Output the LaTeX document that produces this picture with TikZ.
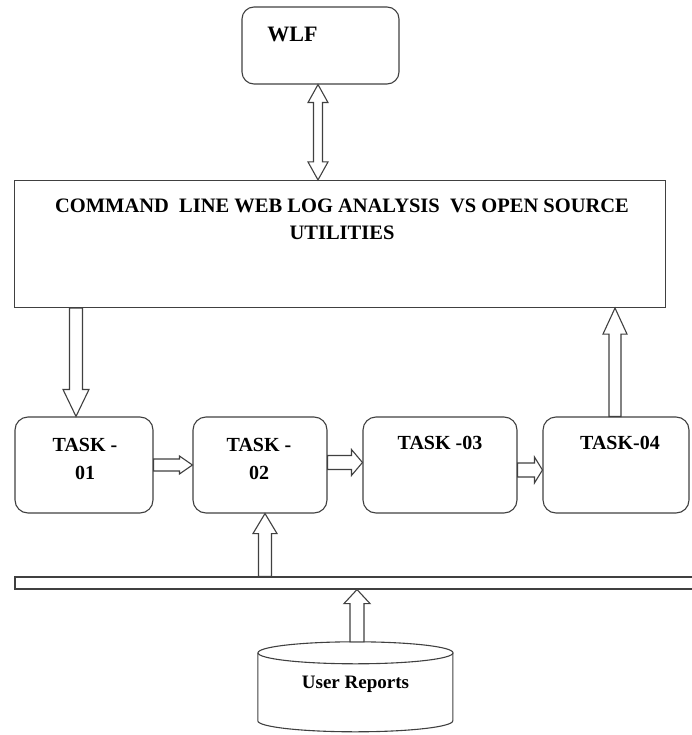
\documentclass[tikz,border=0pt]{standalone}
\usepackage{fontspec}
\setmainfont{Liberation Serif}
\usetikzlibrary{calc}
\newcommand\fatarrow[5]{%
  \draw[fat] ($(#2)!#5!(#1)$) coordinate (fc)
    ($(#1)!#3!90:(#2)$) -- ($(fc)!#3!90:(#2)$) -- ($(fc)!#4!90:(#2)$) -- (#2)
    -- ($(fc)!#4!-90:(#2)$) -- ($(fc)!#3!-90:(#2)$) -- ($(#1)!#3!-90:(#2)$) -- cycle;}
\newcommand\fatdarrow[5]{%
  \draw[fat] ($(#1)!#5!(#2)$) coordinate (fca) ($(#2)!#5!(#1)$) coordinate (fcb)
    (#1) -- ($(fca)!#4!90:(#2)$) -- ($(fca)!#3!90:(#2)$) -- ($(fcb)!#3!90:(#2)$)
    -- ($(fcb)!#4!90:(#2)$) -- (#2) -- ($(fcb)!#4!-90:(#2)$) -- ($(fcb)!#3!-90:(#2)$)
    -- ($(fca)!#3!-90:(#2)$) -- ($(fca)!#4!-90:(#2)$) -- cycle;}
\begin{document}
\begin{tikzpicture}[x=1pt,y=-1pt,
  line/.style={draw=black!75, line width=1.1pt},
  fat/.style={line, fill=white, line join=miter},
  rbox/.style={line, rounded corners=13pt, inner sep=0pt},
  sbox/.style={line, inner sep=0pt},
  lbl/.style={font=\bfseries\fontsize{20}{28}\selectfont, inner sep=0pt, align=center, text=black}]
\useasboundingbox (0,0) rectangle (691,735);
% boxes
\node[rbox, rounded corners=12pt, minimum width=157pt, minimum height=77pt] (wlf) at (320.5,45.5) {};
\node[sbox, minimum width=651pt, minimum height=127pt] (main) at (340,244) {};
\node[rbox, minimum width=138pt, minimum height=96pt] (t1) at (84,465) {};
\node[rbox, minimum width=134pt, minimum height=96pt] (t2) at (260,465) {};
\node[rbox, minimum width=154pt, minimum height=96pt] (t3) at (440,465) {};
\node[rbox, minimum width=146pt, minimum height=96pt] (t4) at (616,465) {};
\node[sbox, minimum width=678pt, minimum height=12pt] (bar) at (354,583) {};
% cylinder
\node[inner sep=0pt, minimum width=195pt, minimum height=90pt] (cyl) at (355.5,687) {};
\draw[line] (cyl.north west) ++(0,11) coordinate (cyltl) -- ++(0,68)
  arc[start angle=180, end angle=360, x radius=97.5pt, y radius=11pt] -- ++(0,-68);
\draw[line] ($(cyl.north)+(0,11)$) ellipse[x radius=97.5pt, y radius=11pt];
% texts
\node[lbl, font=\bfseries\fontsize{22}{26}\selectfont] (wlft) at (292.5,34) {WLF};
\node[lbl, font=\bfseries\fontsize{20.5}{27}\selectfont, anchor=north] (maint) at (342,198.5)
  {COMMAND\ \ LINE WEB LOG ANALYSIS\ \ VS OPEN SOURCE\\UTILITIES};
\node[lbl, anchor=north] (t1t) at (85,438.5) {TASK -\\01};
\node[lbl, anchor=north] (t2t) at (259,438.5) {TASK -\\02};
\node[lbl] (t3t) at (440,443) {TASK -03};
\node[lbl] (t4t) at (620,443) {TASK-04};
\node[lbl, font=\bfseries\fontsize{19}{22}\selectfont, anchor=base] (urt) at (355.5,688) {User Reports};
% arrow end points
\coordinate (w1) at ([xshift=-2.5pt]wlf.south);
\coordinate (w2) at (w1 |- main.north);
\coordinate (d1b) at ([xshift=-8pt]t1.north);
\coordinate (d1a) at (d1b |- main.south);
\coordinate (u4a) at ([xshift=-1pt]t4.north);
\coordinate (u4b) at (u4a |- main.south);
\coordinate (h1a) at (t1.east);
\coordinate (h1b) at (h1a -| t2.west);
\coordinate (h2a) at ([yshift=2.5pt]t2.east);
\coordinate (h2b) at (h2a -| t3.west);
\coordinate (h3a) at ([yshift=-5pt]t3.east);
\coordinate (h3b) at (h3a -| t4.west);
\coordinate (b2b) at ([xshift=5pt]t2.south);
\coordinate (b2a) at (b2b |- bar.north);
\coordinate (cya) at ([xshift=1.5pt]cyl.north);
\coordinate (cyb) at (cya |- bar.south);
% arrows
\fatdarrow{w1}{w2}{4.5pt}{10pt}{18pt}
\fatarrow{d1a}{d1b}{6.5pt}{13pt}{27pt}
\fatarrow{u4a}{u4b}{6pt}{12pt}{26pt}
\fatarrow{h1a}{h1b}{6pt}{9pt}{13pt}
\fatarrow{h2a}{h2b}{7pt}{13pt}{11pt}
\fatarrow{h3a}{h3b}{7pt}{13pt}{8pt}
\fatarrow{b2a}{b2b}{6.5pt}{12pt}{20pt}
\fatarrow{cya}{cyb}{7pt}{13pt}{14pt}
\end{tikzpicture}
\end{document}
